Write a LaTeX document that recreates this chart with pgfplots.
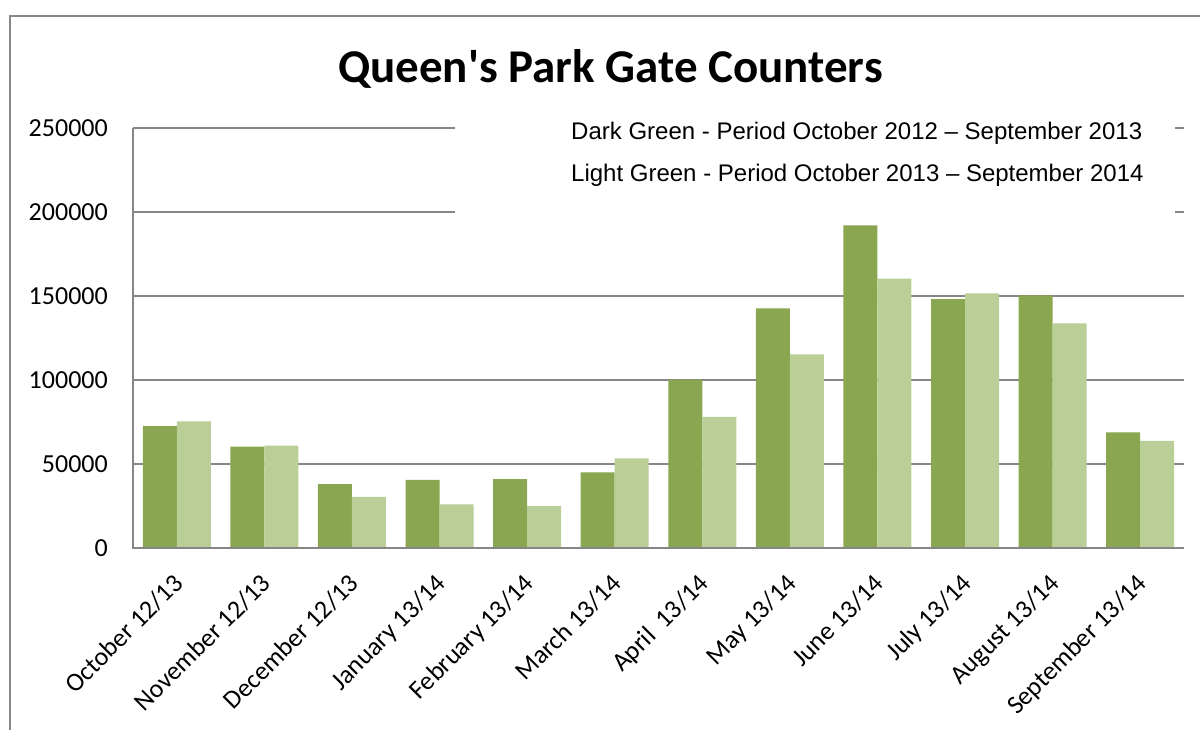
\documentclass[border=0pt]{standalone}
\usepackage{pgfplots}
\pgfplotsset{compat=1.18}
\usepackage{fontspec}
\setmainfont{Carlito}
\newfontfamily\arialfont{Liberation Sans}
\definecolor{darkgr}{RGB}{138,166,80}
\definecolor{lightgr}{RGB}{186,206,151}
\definecolor{gridgray}{RGB}{134,134,134}
\definecolor{framegray}{RGB}{136,136,136}
\begin{document}
\begin{tikzpicture}
\path[use as bounding box] (0,0) rectangle (1200bp,-730bp);
% outer frame (cropped)
\draw[framegray, line width=2bp] (10bp,-730bp) -- (10bp,-15.5bp) -- (1200bp,-15.5bp);
\begin{axis}[
  at={(133bp,-548bp)}, anchor=south west,
  scale only axis, width=1051bp, height=420bp,
  ymin=0, ymax=250000, ytick={0,50000,100000,150000,200000,250000},
  xmin=-0.5, xmax=11.5,
  xtick={0,1,2,3,4,5,6,7,8,9,10,11},
  xticklabels={October 12/13, November 12/13, December 12/13, January 13/14, February 13/14, March 13/14, April\ \ 13/14, May 13/14, June 13/14, July 13/14, August 13/14, September 13/14},
  scaled y ticks=false,
  /pgf/number format/assume math mode=true,
  yticklabel style={/pgf/number format/fixed, /pgf/number format/1000 sep={}, anchor=east, inner sep=0pt, xshift=-25bp, font=\fontsize{26bp}{30bp}\selectfont},
  xticklabel style={xshift=-5bp, yshift=-24bp, rotate=45, anchor=north east, inner sep=0pt, font=\fontsize{26bp}{30bp}\selectfont},
  axis line style={draw=none},
  major tick length=0pt,
  ymajorgrids, grid style={gridgray, line width=1.5bp},
  ybar=0pt, bar width=34bp,
  clip=false,
]
\addplot[fill=darkgr, draw=none] coordinates {(0,72600) (1,60300) (2,38100) (3,40500) (4,41000) (5,45000) (6,100200) (7,142600) (8,192000) (9,148200) (10,150400) (11,68900)};
\addplot[fill=lightgr, draw=none] coordinates {(0,75400) (1,60900) (2,30400) (3,26000) (4,25000) (5,53300) (6,78000) (7,115200) (8,160300) (9,151600) (10,133700) (11,63700)};
\draw[gridgray, line width=1.5bp] (rel axis cs:0,1) -- (rel axis cs:0,0) -- (rel axis cs:1,0);
\end{axis}
% legend text box
\fill[white] (455bp,-105bp) rectangle (1175bp,-222bp);
\node[anchor=base west, inner sep=0pt, font=\arialfont\fontsize{24bp}{28bp}\selectfont] at (571bp,-139bp) {Dark Green - Period October 2012 – September 2013};
\node[anchor=base west, inner sep=0pt, font=\arialfont\fontsize{24bp}{28bp}\selectfont] at (571bp,-181.5bp) {Light Green - Period October 2013 – September 2014};
% title
\node[anchor=base, inner sep=0pt, font=\bfseries\fontsize{47bp}{54bp}\selectfont] at (610.5bp,-82bp) {Queen\textquotesingle s Park Gate Counters};
\end{tikzpicture}
\end{document}
